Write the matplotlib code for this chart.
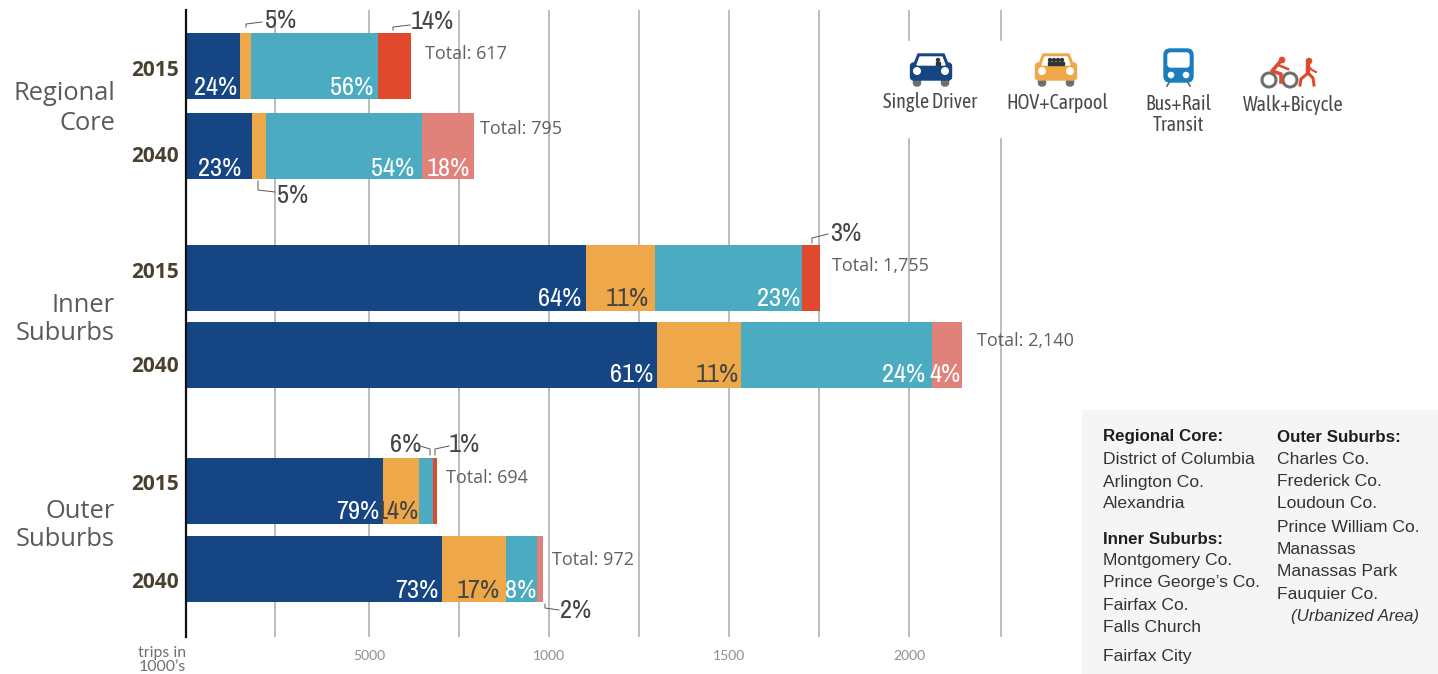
"""Commute trips by mode, region and year - stacked horizontal bars."""

import matplotlib
matplotlib.use("Agg")
import matplotlib.pyplot as plt
from matplotlib.patches import Circle, FancyBboxPatch, Polygon, Rectangle

# Data, in 1000's of trips
drive_alone = [149, 182, 1104, 1300, 544, 707]
hov_carpool = [30, 39, 190, 232, 99, 177]
bus_rail = [351, 431, 406, 527, 39, 86]
walk_bicycle = [91, 144, 50, 83, 11, 17]

years = ["2015", "2040", "2015", "2040", "2015", "2040"]
totals = ["Total: 617", "Total: 795", "Total: 1,755", "Total: 2,140", "Total: 694", "Total: 972"]
tick_values = [0, 246, 505, 754, 1002, 1251, 1499, 1748, 1996, 2250]
tick_labels = ["", "", "5000", "", "1000", "", "1500", "", "2000", ""]

inner_pcts = ["24%", "56%", "23%", "54%", "18%", "64%", "11%", "23%", "61%", "11%",
              "24%", "4%", "79%", "14%", "73%", "17%", "8%"]
callout_pcts = ["5%", "14%", "5%", "3%", "6%", "1%", "2%"]

region_core = ["Regional Core:", "District of Columbia", "Arlington Co.", "Alexandria"]
region_inner = ["Inner Suburbs:", "Montgomery Co.", "Prince George\u2019s Co.", "Fairfax Co.",
                "Falls Church", "Fairfax City"]
region_outer = ["Outer Suburbs:", "Charles Co.", "Frederick Co.", "Loudoun Co.",
                "Prince William Co.", "Manassas", "Manassas Park", "Fauquier Co."]

# Layout (reference pixels)
W, H = 1438, 674
AXIS_X, AXIS_TOP, AXIS_BOTTOM = 186, 10, 637
PX_PER_UNIT = 0.3622
bar_centers = [66, 146, 278, 355, 491, 569]
BAR_H = 66

NAVY, ORANGE, TEAL = "#154583", "#EEA849", "#4BACC1"
RED, PINK = "#E0492E", "#E0817A"
DARK, GREY = "#444444", "#5A5A5A"
NARROW = ["Archivo Narrow", "Roboto", "DejaVu Sans"]
LEGEND_FONT = ["Asap Condensed", "Roboto", "DejaVu Sans"]
PANEL_FONT = ["Liberation Sans", "DejaVu Sans"]

plt.rcParams["font.family"] = ["Open Sans", "DejaVu Sans"]
fig = plt.figure(figsize=(W / 100, H / 100), dpi=100)

ax = fig.add_axes([AXIS_X / W, 1 - AXIS_BOTTOM / H, 1 - AXIS_X / W, (AXIS_BOTTOM - AXIS_TOP) / H])
ax.set_xlim(0, (W - AXIS_X) / PX_PER_UNIT)
ax.set_ylim(AXIS_BOTTOM, AXIS_TOP)

walk_colors = [RED if y == "2015" else PINK for y in years]
left = [0] * 6
for values, color in [(drive_alone, NAVY), (hov_carpool, ORANGE), (bus_rail, TEAL), (walk_bicycle, walk_colors)]:
    ax.barh(bar_centers, values, height=BAR_H, left=left, color=color, zorder=3)
    left = [a + b for a, b in zip(left, values)]

ax.set_xticks(tick_values)
ax.set_xticklabels(tick_labels, fontfamily="Lato", fontsize=10, color="#8F8F8F")
ax.tick_params(axis="x", length=0, pad=9)
ax.set_yticks([])
ax.grid(axis="x", color="#ABABAB", linewidth=1.1, zorder=0)
ax.set_axisbelow(True)
for side in ["top", "right", "bottom"]:
    ax.spines[side].set_visible(False)
ax.spines["left"].set_linewidth(1.6)
ax.spines["left"].set_color("#111111")
ax.spines["left"].set_zorder(5)

# Overlay in pixel coordinates for text and icons
page = fig.add_axes([0, 0, 1, 1])
page.set_xlim(0, W)
page.set_ylim(H, 0)
page.axis("off")
page.patch.set_alpha(0)

# Legend sits on a white gap in the last gridlines
page.add_patch(Rectangle((860, 41), 400, 96, color="white", zorder=1))

# Region and year labels
for txt, y in [("Regional", 93), ("Core", 124), ("Inner", 305), ("Suburbs", 333), ("Outer", 511), ("Suburbs", 540)]:
    page.text(115, y, txt, ha="right", va="center", fontsize=18.4, color=GREY)
for txt, y in zip(years, [70, 156, 272, 366, 484, 582]):
    page.text(179, y, txt, ha="right", va="center", fontsize=15, fontweight="bold", color="#4A4030")

# Percent labels inside the bars
pct_right = [237, 373, 241, 414, 470, 581, 649, 800, 653, 739, 925, 961, 379, 419, 438, 500, 536]
pct_base = [95, 95, 176, 176, 176, 306, 306, 306, 382, 382, 382, 382, 519, 519, 598, 598, 598]
pct_dark = {6: True, 9: True, 13: True, 15: True}
for i, (txt, x, y) in enumerate(zip(inner_pcts, pct_right, pct_base)):
    page.text(x, y, txt, ha="right", va="baseline", fontsize=19, family=NARROW,
              color=DARK if i in pct_dark else "white", zorder=4)

# Small shares with leader lines
callout_x = [265, 411, 277, 830, 390, 449, 560]
callout_base = [28, 29, 203, 241, 452, 452, 618]
leaders = [
    [(246, 27), (246, 24), (262, 22)],
    [(393, 30), (393, 27), (410, 25)],
    [(258, 181), (258, 190), (275, 192)],
    [(812, 243), (812, 238), (828, 234)],
    [(420, 446), (430, 449), (430, 455)],
    [(435, 455), (435, 449), (449, 446)],
    [(545, 604), (545, 608), (559, 610)],
]
for txt, x, y, pts in zip(callout_pcts, callout_x, callout_base, leaders):
    page.text(x, y, txt, ha="left", va="baseline", fontsize=19, family=NARROW, color=DARK)
    page.plot(*zip(*pts), color="#555555", linewidth=0.7)

# Totals
total_x = [425, 480, 832, 977, 446, 552]
total_y = [54, 129, 266, 341, 478, 560]
for txt, x, y in zip(totals, total_x, total_y):
    page.text(x, y, txt, ha="left", va="center", fontsize=13, color="#606060", zorder=4)

page.text(186, 653, "trips in", ha="right", va="center", fontsize=11.4, family="Lato", color="#707070")
page.text(186, 667, "1000\u2019s", ha="right", va="center", fontsize=11.4, family="Lato", color="#707070")


def draw_car(cx, color, riders):
    """Front view of a car, riders are dark heads in the windscreen."""
    for dx in (-14, 14):
        page.add_patch(FancyBboxPatch((cx + dx - 3.5, 78), 7, 8, boxstyle="round,pad=0,rounding_size=3",
                                      color="#6E6E6E", zorder=2))
    page.add_patch(Polygon([(cx - 13, 54), (cx + 13, 54), (cx + 17, 64), (cx - 17, 64)], color=color, zorder=3))
    page.add_patch(FancyBboxPatch((cx - 20.5, 63), 41, 17, boxstyle="round,pad=0,rounding_size=3",
                                  color=color, zorder=3))
    page.add_patch(Polygon([(cx - 11, 57), (cx + 11, 57), (cx + 14, 65), (cx - 14, 65)], color="white", zorder=4))
    for dx in (-14, 14):
        page.add_patch(Circle((cx + dx, 71), 3.3, color="white", zorder=4))
    for dx in riders:
        page.add_patch(Circle((cx + dx, 60), 1.5, color="#333333", zorder=5))
        page.add_patch(Rectangle((cx + dx - 1.9, 62), 3.8, 3, color="#333333", zorder=5))


draw_car(931, NAVY, [7])
draw_car(1056, ORANGE, [-6, -2, 2, 6])

# Train
BLUE = "#1A7DBD"
page.plot([1170, 1167], [81, 86], color="#6E6E6E", linewidth=1.3)
page.plot([1187, 1190], [81, 86], color="#6E6E6E", linewidth=1.3)
page.add_patch(FancyBboxPatch((1164, 49), 29, 33, boxstyle="round,pad=0,rounding_size=6", color=BLUE, zorder=3))
page.add_patch(FancyBboxPatch((1168, 53), 21, 14, boxstyle="round,pad=0,rounding_size=2.5", color="white", zorder=4))
for x in (1171, 1186):
    page.add_patch(Circle((x, 75), 2.6, color="white", zorder=4))

# Bicycle and walker
for x in (1269, 1290):
    page.add_patch(Circle((x, 80), 7, fill=False, edgecolor="#6E6E6E", linewidth=2.2, zorder=3))
page.add_patch(Circle((1282, 60), 2.6, color=RED, zorder=4))
page.plot([1279, 1272, 1281, 1281], [63, 71, 74, 82], color=RED, linewidth=2.6, zorder=4)
page.plot([1278, 1288], [65, 69], color=RED, linewidth=1.8, zorder=4)
page.add_patch(Circle((1309, 61), 2.6, color=RED, zorder=4))
page.plot([1308, 1308], [65, 73], color=RED, linewidth=3.2, zorder=4)
page.plot([1308, 1301, 1300], [73, 79, 85], color=RED, linewidth=2.2, zorder=4)
page.plot([1308, 1313, 1314], [73, 78, 85], color=RED, linewidth=2.2, zorder=4)
page.plot([1308, 1312, 1316], [66, 70, 72], color=RED, linewidth=1.5, zorder=4)

legend_text = [("Single Driver", 930, 102), ("HOV+Carpool", 1057, 103), ("Bus+Rail", 1178, 104),
               ("Transit", 1178, 125), ("Walk+Bicycle", 1293, 105)]
for txt, x, y in legend_text:
    page.text(x, y, txt, ha="center", va="center", fontsize=14.5, family=LEGEND_FONT, color="#4A4A4A", zorder=4)

# Region definition panel
page.add_patch(Rectangle((1082, 410), W - 1082, H - 410, color="#F5F5F5", zorder=1))


def draw_list(names, x, ys):
    for i, (name, y) in enumerate(zip(names, ys)):
        page.text(x, y, name, ha="left", va="center", fontsize=12.2 if i == 0 else 12.6, family=PANEL_FONT,
                  fontweight="bold" if i == 0 else "normal", color="#1E1E1E" if i == 0 else "#333333", zorder=2)


draw_list(region_core, 1103, [437, 459, 482, 504])
draw_list(region_inner, 1103, [539, 561, 583, 606, 628, 657])
draw_list(region_outer, 1277, [437, 459, 482, 504, 527, 549, 571, 594])
page.text(1291, 616, "(Urbanized Area)", ha="left", va="center", fontsize=12.2, style="italic",
          family=PANEL_FONT, color="#333333", zorder=2)

fig.savefig("out.png", dpi=100)
plt.close(fig)
